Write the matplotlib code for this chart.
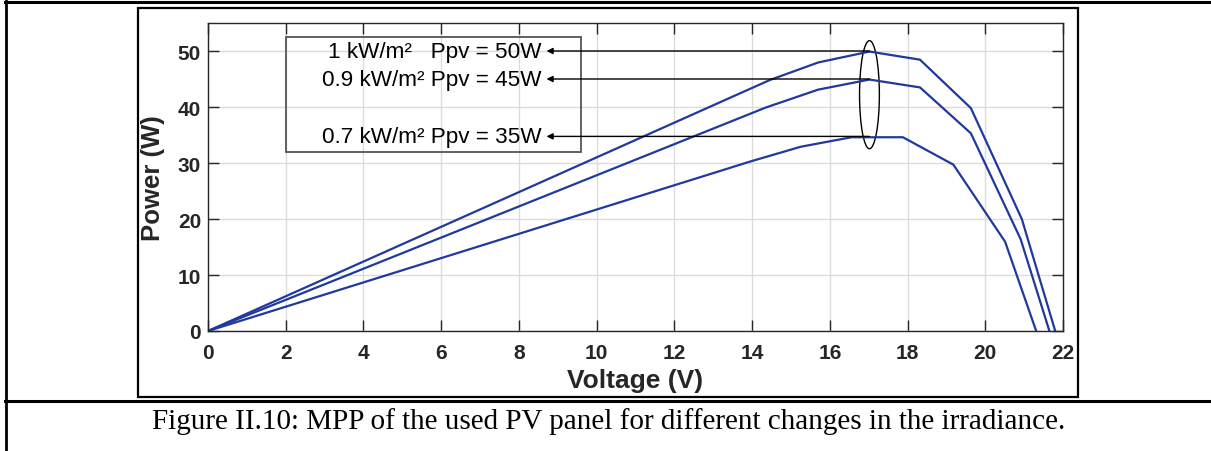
import numpy as np
import matplotlib
matplotlib.use("Agg")
import matplotlib.pyplot as plt
from matplotlib.patches import Ellipse, Rectangle
from matplotlib.lines import Line2D

# P-V curves (voltage V, power W)
v_1000 = [0, 14.45, 15.7, 17.02, 18.32, 19.63, 20.94, 21.8]
p_1000 = [0, 44.8, 47.95, 49.9, 48.45, 39.8, 20.0, 0]

v_900 = [0, 14.35, 15.7, 17.02, 18.32, 19.63, 20.91, 21.65]
p_900 = [0, 39.9, 43.1, 44.9, 43.5, 35.3, 16.4, 0]

v_700 = [0, 13.97, 15.25, 16.56, 17.88, 19.18, 20.51, 21.31]
p_700 = [0, 30.3, 32.9, 34.6, 34.6, 29.7, 15.95, 0]

mpp_labels = ["1 kW/m\u00b2   Ppv = 50W", "0.9 kW/m\u00b2 Ppv = 45W", "0.7 kW/m\u00b2 Ppv = 35W"]
mpp_power = [50, 45, 34.75]
mpp_voltage = 17.02

x_ticks = list(range(0, 23, 2))
y_ticks = list(range(0, 51, 10))

caption = "Figure II.10: MPP of the used PV panel for different changes in the irradiance."

W, H = 1211, 452
fig = plt.figure(figsize=(W / 100, H / 100), dpi=100)
ax = fig.add_axes([208 / W, 120 / H, 855 / W, 308 / H])

blue = "#20399c"
for v, p in [(v_1000, p_1000), (v_900, p_900), (v_700, p_700)]:
    ax.plot(v, p, color=blue, lw=1.6, solid_joinstyle="miter")

ax.set_xlim(0, 22)
ax.set_ylim(0, 55)
ax.set_xticks(x_ticks)
ax.set_yticks(y_ticks)
ax.grid(True, color="#dcdcdc", lw=1)
ax.set_axisbelow(True)
ax.tick_params(direction="in", length=8, width=1, top=True, right=True,
               labelsize=15, colors="#262626")
ax.tick_params(axis="x", pad=9)
ax.tick_params(axis="y", pad=5)
for lab in ax.get_xticklabels() + ax.get_yticklabels():
    lab.set_fontweight("bold")
    lab.set_fontfamily("Liberation Sans")
for s in ax.spines.values():
    s.set_color("#262626")
    s.set_linewidth(1)

ax.set_xlabel("Voltage (V)", fontsize=19, fontweight="bold", family="Liberation Sans",
              color="#262626", labelpad=4)
ax.set_ylabel("Power (W)", fontsize=18.5, fontweight="bold", family="Liberation Sans",
              color="#262626", labelpad=9)

# annotation box, arrows, ellipse
ax.add_patch(Rectangle((2.01, 31.9), 7.58, 20.65, fill=False, ec="#555555", lw=1.3))
for lbl, p in zip(mpp_labels, mpp_power):
    ax.annotate("", xy=(8.71, p), xytext=(mpp_voltage, p),
                arrowprops=dict(arrowstyle="-|>", color="black", lw=1,
                                mutation_scale=9, shrinkA=0, shrinkB=0))
    ax.text(8.59, p, lbl, ha="right", va="center", fontsize=16.2,
            family="Liberation Sans", color="black")
ax.add_patch(Ellipse((mpp_voltage, 42.2), 0.51, 19.3, fill=False, ec="black", lw=1))

# document table frame
tr = fig.transFigure
def px(x, y):
    return x / W, 1 - y / H

fig.add_artist(Line2D([px(5, 0)[0], 1], [px(0, 3)[1]] * 2, transform=tr, color="black", lw=2.2))
fig.add_artist(Line2D([px(6, 0)[0]] * 2, [px(0, 2)[1], 0], transform=tr, color="black", lw=2.0))
fig.add_artist(Line2D([px(5, 0)[0], 1], [px(0, 401.5)[1]] * 2, transform=tr, color="black", lw=2.2))
x0, y0 = px(138, 397.5)
x1, y1 = px(1077.5, 8.5)
fig.add_artist(Rectangle((x0, y0), x1 - x0, y1 - y0, transform=tr, fill=False,
                         ec="black", lw=1.6))

fig.text(609 / W, 1 - 429 / H, caption, ha="center", va="baseline", fontsize=21,
         family="Liberation Serif", color="black")

fig.savefig("out.png", dpi=100)
